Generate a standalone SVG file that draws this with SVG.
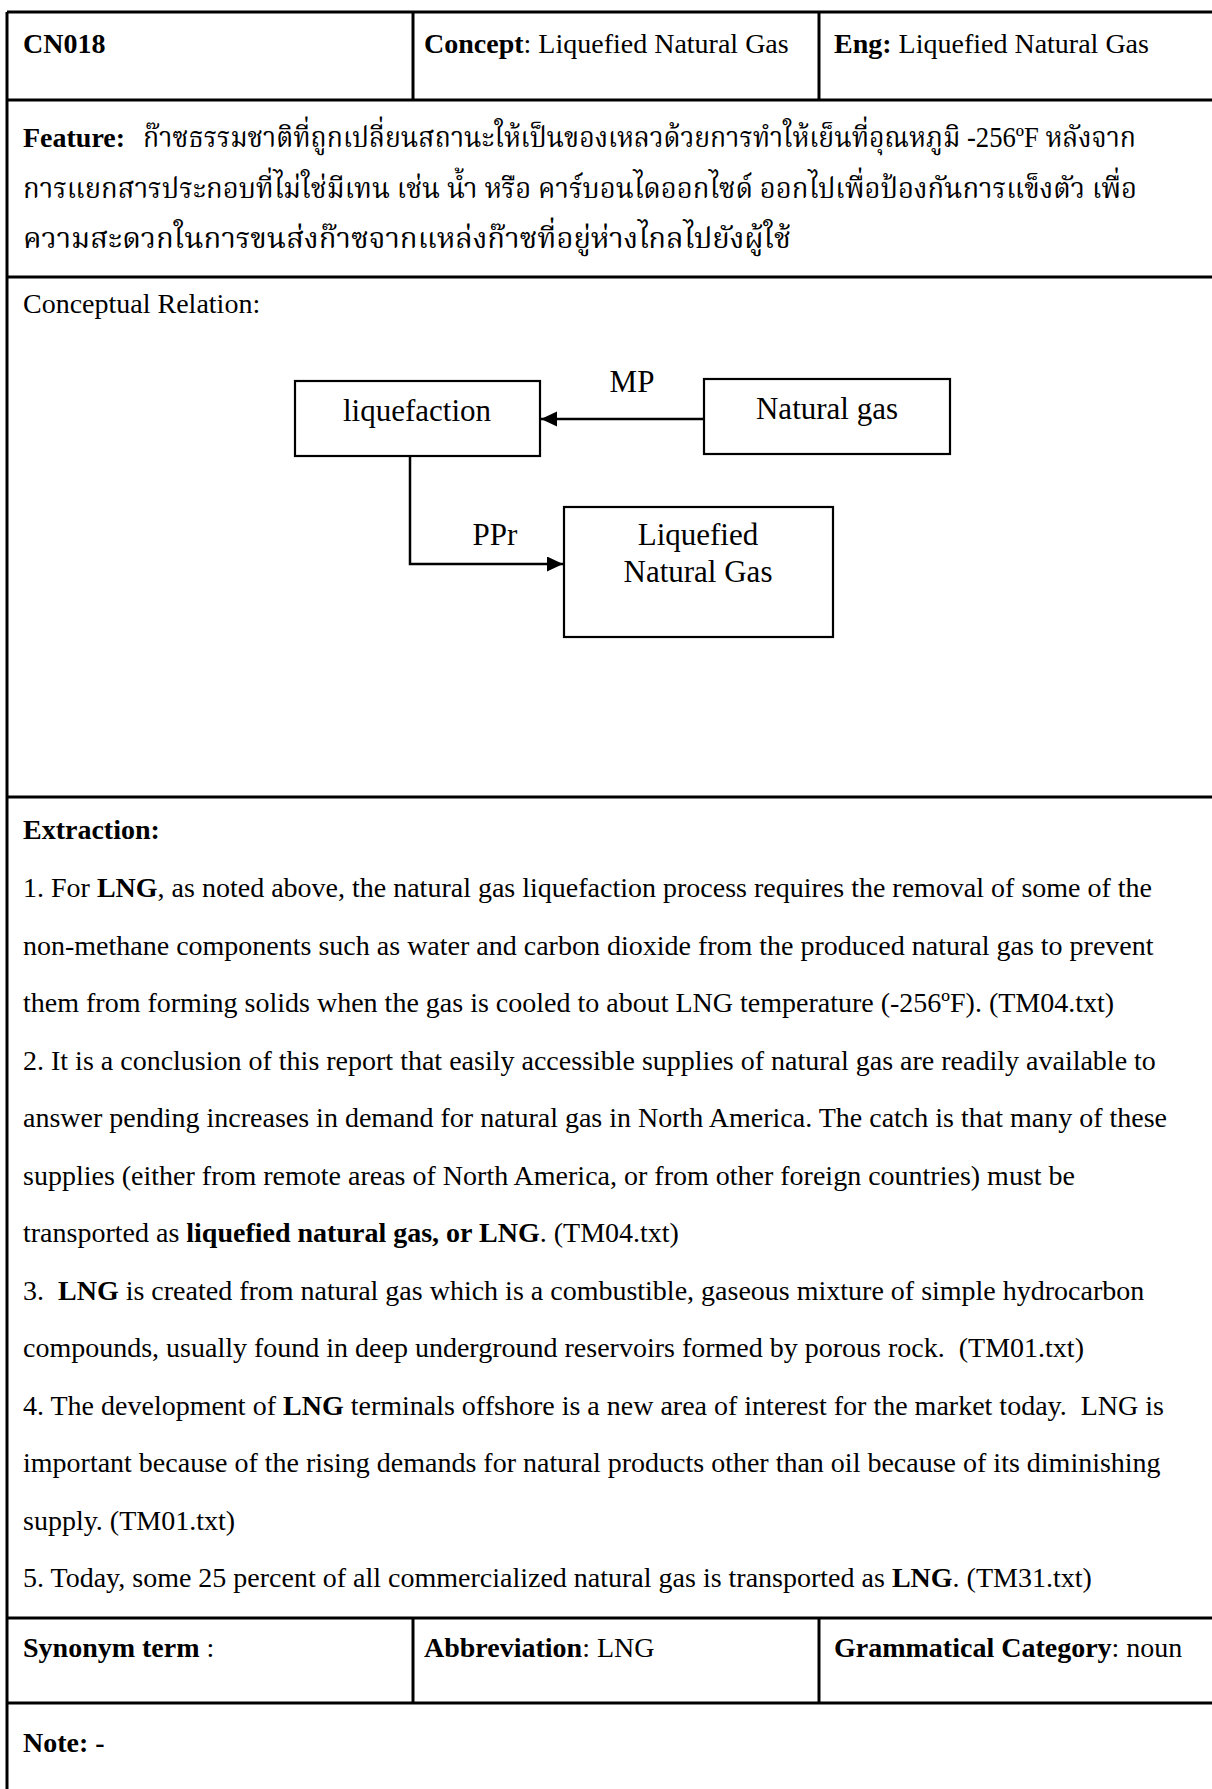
<svg xmlns="http://www.w3.org/2000/svg" width="1212" height="1789" viewBox="0 0 1212 1789" xml:space="preserve">
  <style>
    .t { font-family: "Liberation Serif", "Times New Roman", serif; font-size: 28px; fill: #000; white-space: pre; }
    .b { font-weight: bold; }
    .th { font-family: "Liberation Serif", "Kinnari", "Norasi", "Laksaman", "TH Sarabun New", "Noto Serif Thai", "Noto Sans Thai Looped", "Noto Sans Thai", "Tlwg Typo", "Garuda", "Loma", serif; font-size: 29px; fill: #000; white-space: pre; }
    .d { font-family: "Liberation Serif", "Times New Roman", serif; font-size: 31px; fill: #000; }
    .grid { stroke: #000; stroke-width: 3; fill: none; }
    .box { fill: #fff; stroke: #000; stroke-width: 2.2; }
    .link { stroke: #000; stroke-width: 2.5; fill: none; }
  </style>
  <defs>
    <marker id="arrow" markerUnits="userSpaceOnUse" markerWidth="18" markerHeight="16" refX="16" refY="7.5" orient="auto">
      <path d="M0,0 L16,7.5 L0,15 z" fill="#000"/>
    </marker>
  </defs>

  <rect x="0" y="0" width="1212" height="1789" fill="#fff"/>

  <!-- table rules -->
  <g id="table">
    <line class="grid" x1="7" y1="12" x2="7" y2="1789"/>
    <line class="grid" x1="7" y1="12" x2="1212" y2="12"/>
    <line class="grid" x1="7" y1="100" x2="1212" y2="100"/>
    <line class="grid" x1="7" y1="277" x2="1212" y2="277"/>
    <line class="grid" x1="7" y1="797" x2="1212" y2="797"/>
    <line class="grid" x1="7" y1="1618" x2="1212" y2="1618"/>
    <line class="grid" x1="7" y1="1703" x2="1212" y2="1703"/>
    <line class="grid" x1="413" y1="12" x2="413" y2="100"/>
    <line class="grid" x1="819" y1="12" x2="819" y2="100"/>
    <line class="grid" x1="413" y1="1618" x2="413" y2="1703"/>
    <line class="grid" x1="819" y1="1618" x2="819" y2="1703"/>
  </g>

  <!-- header row -->
  <g id="header">
    <text class="t b" x="23" y="53">CN018</text>
    <text class="t" x="424" y="53"><tspan class="b">Concept</tspan>: Liquefied Natural Gas</text>
    <text class="t" x="834" y="53"><tspan class="b">Eng:</tspan> Liquefied Natural Gas</text>
  </g>

  <!-- feature definition -->
  <g id="feature">
    <text class="t b" x="23" y="147">Feature:</text>
    <text class="th" x="143" y="147" textLength="993" lengthAdjust="spacingAndGlyphs">ก๊าซธรรมชาติที่ถูกเปลี่ยนสถานะให้เป็นของเหลวด้วยการทำให้เย็นที่อุณหภูมิ -256ºF หลังจาก</text>
    <text class="th" x="23" y="198" textLength="1114" lengthAdjust="spacingAndGlyphs">การแยกสารประกอบที่ไม่ใช่มีเทน เช่น น้ำ หรือ คาร์บอนไดออกไซด์ ออกไปเพื่อป้องกันการแข็งตัว เพื่อ</text>
    <text class="th" x="23" y="248" textLength="768" lengthAdjust="spacingAndGlyphs">ความสะดวกในการขนส่งก๊าซจากแหล่งก๊าซที่อยู่ห่างไกลไปยังผู้ใช้</text>
  </g>

  <text class="t" x="23" y="313">Conceptual Relation:</text>

  <!-- concept map -->
  <g id="node-liquefaction">
    <rect class="box" x="295" y="381" width="245" height="75"/>
    <text class="d" x="417" y="421" text-anchor="middle">liquefaction</text>
  </g>
  <g id="node-natural-gas">
    <rect class="box" x="704" y="379" width="246" height="75"/>
    <text class="d" x="827" y="419" text-anchor="middle">Natural gas</text>
  </g>
  <g id="node-lng">
    <rect class="box" x="564" y="507" width="269" height="130"/>
    <text class="d" x="698" y="545" text-anchor="middle">Liquefied</text>
    <text class="d" x="698" y="582" text-anchor="middle">Natural Gas</text>
  </g>
  <g id="connectors">
    <line class="link" x1="704" y1="419" x2="541" y2="419" marker-end="url(#arrow)"/>
    <text class="d" x="632" y="392" text-anchor="middle">MP</text>
    <path class="link" d="M410,456 V564 H563" marker-end="url(#arrow)"/>
    <text class="d" x="495" y="545" text-anchor="middle">PPr</text>
  </g>

  <!-- extraction examples -->
  <g id="extraction">
    <text class="t b" x="23" y="839">Extraction:</text>
    <text class="t" x="23" y="897">1. For <tspan class="b">LNG</tspan>, as noted above, the natural gas liquefaction process requires the removal of some of the</text>
    <text class="t" x="23" y="954.5">non-methane components such as water and carbon dioxide from the produced natural gas to prevent</text>
    <text class="t" x="23" y="1012">them from forming solids when the gas is cooled to about LNG temperature (-256ºF). (TM04.txt)</text>
    <text class="t" x="23" y="1069.5">2. It is a conclusion of this report that easily accessible supplies of natural gas are readily available to</text>
    <text class="t" x="23" y="1127">answer pending increases in demand for natural gas in North America. The catch is that many of these</text>
    <text class="t" x="23" y="1184.5">supplies (either from remote areas of North America, or from other foreign countries) must be</text>
    <text class="t" x="23" y="1242">transported as <tspan class="b">liquefied natural gas, or LNG</tspan>. (TM04.txt)</text>
    <text class="t" x="23" y="1299.5">3.  <tspan class="b">LNG</tspan> is created from natural gas which is a combustible, gaseous mixture of simple hydrocarbon</text>
    <text class="t" x="23" y="1357">compounds, usually found in deep underground reservoirs formed by porous rock.  (TM01.txt)</text>
    <text class="t" x="23" y="1414.5">4. The development of <tspan class="b">LNG</tspan> terminals offshore is a new area of interest for the market today.  LNG is</text>
    <text class="t" x="23" y="1472">important because of the rising demands for natural products other than oil because of its diminishing</text>
    <text class="t" x="23" y="1529.5">supply. (TM01.txt)</text>
    <text class="t" x="23" y="1587">5. Today, some 25 percent of all commercialized natural gas is transported as <tspan class="b">LNG</tspan>. (TM31.txt)</text>
  </g>

  <!-- term attributes -->
  <g id="attributes">
    <text class="t" x="23" y="1657"><tspan class="b">Synonym term</tspan> :</text>
    <text class="t" x="424" y="1657"><tspan class="b">Abbreviation</tspan>: LNG</text>
    <text class="t" x="834" y="1657"><tspan class="b">Grammatical Category</tspan>: noun</text>
    <text class="t b" x="23" y="1752">Note: -</text>
  </g>
</svg>
